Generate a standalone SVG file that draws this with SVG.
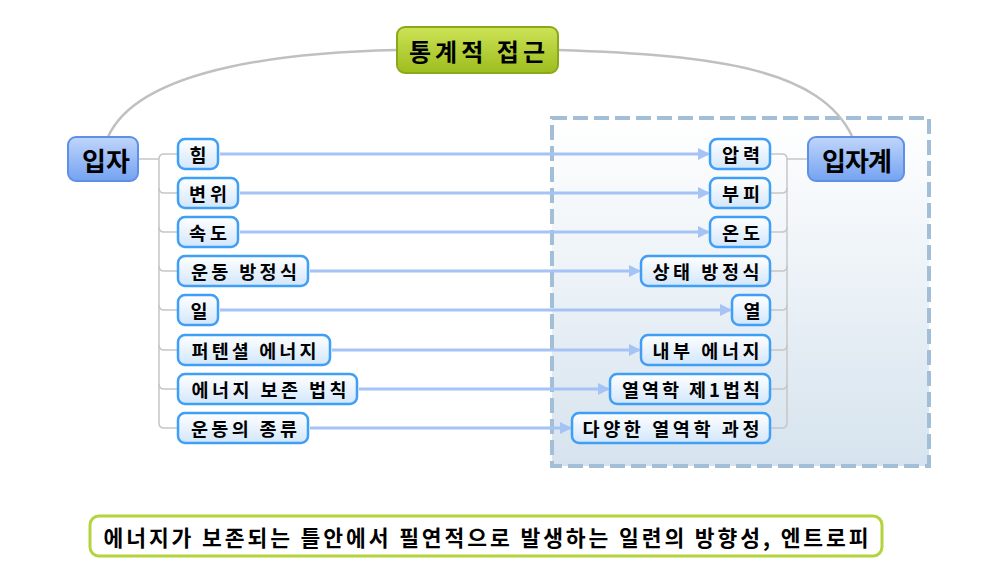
<svg xmlns="http://www.w3.org/2000/svg" width="982" height="576" viewBox="0 0 982 576">
<defs>
<linearGradient id="gBlue" x1="0" y1="0" x2="0" y2="1"><stop offset="0" stop-color="#c0d6fb"/><stop offset="1" stop-color="#74a2f1"/></linearGradient>
<linearGradient id="gChild" x1="0" y1="0" x2="0" y2="1"><stop offset="0" stop-color="#ffffff"/><stop offset="1" stop-color="#d2e6fb"/></linearGradient>
<linearGradient id="gGreen" x1="0" y1="0" x2="0" y2="1"><stop offset="0" stop-color="#cde356"/><stop offset="1" stop-color="#9dbd1e"/></linearGradient>
<linearGradient id="gBox" x1="0" y1="0" x2="0" y2="1"><stop offset="0" stop-color="#ffffff"/><stop offset="1" stop-color="#d6e3ee"/></linearGradient>
<marker id="arr" markerWidth="12" markerHeight="12" refX="10" refY="6" orient="auto" markerUnits="userSpaceOnUse"><path d="M0,0 L12,6 L0,12 Z" fill="#a6c3f5"/></marker>
</defs>
<style>
text{font-family:"Noto Sans CJK KR","Noto Sans",sans-serif;font-weight:bold;fill:#000;dominant-baseline:central;text-anchor:middle}
.child rect{fill:url(#gChild);stroke:#3f9ef5;stroke-width:2.5}
.child text{font-size:18.5px}
.main rect{fill:url(#gBlue);stroke:#5f90e6;stroke-width:2}
.main text{font-size:26px}
.tree{fill:none;stroke:#c6c6c6;stroke-width:1.5}
.arc{fill:none;stroke:#c0c0c0;stroke-width:2.5}
.ar{fill:none;stroke:#a6c3f5;stroke-width:3;marker-end:url(#arr)}
</style>

<rect x="552" y="118" width="377" height="348" fill="url(#gBox)" stroke="#a3bfd7" stroke-width="4" stroke-dasharray="15 6"/>

<g id="connectors">
<path class="arc" d="M108,137 C140,65 300,52 397,50"/>
<path class="arc" d="M558,50 C720,55 820,70 852,136"/>
<path class="tree" d="M138,159 H159"/>
<path class="tree" d="M178,154 H164 Q159,154 159,159 V423 Q159,428 164,428 H178"/>
<path class="tree" d="M159,188 Q159,193 164,193 H178"/>
<path class="tree" d="M159,227 Q159,232 164,232 H178"/>
<path class="tree" d="M159,266 Q159,271 164,271 H178"/>
<path class="tree" d="M159,305 Q159,310 164,310 H178"/>
<path class="tree" d="M159,345 Q159,350 164,350 H178"/>
<path class="tree" d="M159,384 Q159,389 164,389 H178"/>
<path class="tree" d="M808,159 H787"/>
<path class="tree" d="M770,154 H782 Q787,154 787,159 V423 Q787,428 782,428 H770"/>
<path class="tree" d="M770,193 H782 Q787,193 787,188"/>
<path class="tree" d="M770,232 H782 Q787,232 787,227"/>
<path class="tree" d="M770,271 H782 Q787,271 787,266"/>
<path class="tree" d="M770,310 H782 Q787,310 787,305"/>
<path class="tree" d="M770,350 H782 Q787,350 787,345"/>
<path class="tree" d="M770,389 H782 Q787,389 787,384"/>
<path class="ar" d="M220,154 H708"/>
<path class="ar" d="M240,193 H708"/>
<path class="ar" d="M240,232 H708"/>
<path class="ar" d="M310,271 H639"/>
<path class="ar" d="M220,310 H730"/>
<path class="ar" d="M332,350 H639"/>
<path class="ar" d="M359,389 H608"/>
<path class="ar" d="M310,428 H570"/>
</g>

<g id="title">
<rect x="397" y="27" width="161" height="46" rx="8" fill="url(#gGreen)" stroke="#8aa91a" stroke-width="2"/>
<text x="477" y="50" font-size="24" textLength="136" lengthAdjust="spacing">통계적 접근</text>
</g>

<g id="ipja" class="main">
<rect x="68" y="137" width="70" height="44" rx="8"/>
<text x="106" y="159" textLength="48" lengthAdjust="spacing">입자</text>
</g>
<g id="ipjagye" class="main">
<rect x="808" y="137" width="96" height="44" rx="8"/>
<text x="857" y="159" textLength="70" lengthAdjust="spacing">입자계</text>
</g>

<g id="n-him" class="child"><rect x="178" y="139" width="40" height="30" rx="7"/><text x="198" y="154">힘</text></g>
<g id="n-byeonwi" class="child"><rect x="178" y="178" width="60" height="30" rx="7"/><text x="208" y="193" textLength="38" lengthAdjust="spacing">변위</text></g>
<g id="n-sokdo" class="child"><rect x="178" y="217" width="60" height="30" rx="7"/><text x="208" y="232" textLength="38" lengthAdjust="spacing">속도</text></g>
<g id="n-undong" class="child"><rect x="178" y="256" width="130" height="30" rx="7"/><text x="244" y="271" textLength="106" lengthAdjust="spacing">운동 방정식</text></g>
<g id="n-il" class="child"><rect x="178" y="295" width="40" height="30" rx="7"/><text x="199" y="310">일</text></g>
<g id="n-potential" class="child"><rect x="178" y="335" width="152" height="30" rx="7"/><text x="254" y="350" textLength="125" lengthAdjust="spacing">퍼텐셜 에너지</text></g>
<g id="n-bojon" class="child"><rect x="178" y="374" width="179" height="30" rx="7"/><text x="269" y="389" textLength="155" lengthAdjust="spacing">에너지 보존 법칙</text></g>
<g id="n-jongryu" class="child"><rect x="178" y="413" width="130" height="30" rx="7"/><text x="244" y="428" textLength="106" lengthAdjust="spacing">운동의 종류</text></g>

<g id="n-apryeok" class="child"><rect x="710" y="139" width="60" height="30" rx="7"/><text x="741" y="154" textLength="38" lengthAdjust="spacing">압력</text></g>
<g id="n-bupi" class="child"><rect x="710" y="178" width="60" height="30" rx="7"/><text x="741" y="193" textLength="38" lengthAdjust="spacing">부피</text></g>
<g id="n-ondo" class="child"><rect x="710" y="217" width="60" height="30" rx="7"/><text x="741" y="232" textLength="38" lengthAdjust="spacing">온도</text></g>
<g id="n-sangtae" class="child"><rect x="641" y="256" width="129" height="30" rx="7"/><text x="706" y="271" textLength="107" lengthAdjust="spacing">상태 방정식</text></g>
<g id="n-yeol" class="child"><rect x="732" y="295" width="38" height="30" rx="7"/><text x="752" y="310">열</text></g>
<g id="n-naebu" class="child"><rect x="641" y="335" width="129" height="30" rx="7"/><text x="706" y="350" textLength="107" lengthAdjust="spacing">내부 에너지</text></g>
<g id="n-je1" class="child"><rect x="610" y="374" width="160" height="30" rx="7"/><text x="691" y="389" textLength="138" lengthAdjust="spacing">열역학 제1법칙</text></g>
<g id="n-gwajeong" class="child"><rect x="572" y="413" width="198" height="30" rx="7"/><text x="671" y="428" textLength="177" lengthAdjust="spacing">다양한 열역학 과정</text></g>

<g id="summary">
<rect x="90" y="516" width="792" height="40" rx="9" fill="#ffffff" stroke="#b4d43e" stroke-width="3"/>
<text x="486" y="536" font-size="21.5" textLength="765" lengthAdjust="spacing">에너지가 보존되는 틀안에서 필연적으로 발생하는 일련의 방향성, 엔트로피</text>
</g>
</svg>
